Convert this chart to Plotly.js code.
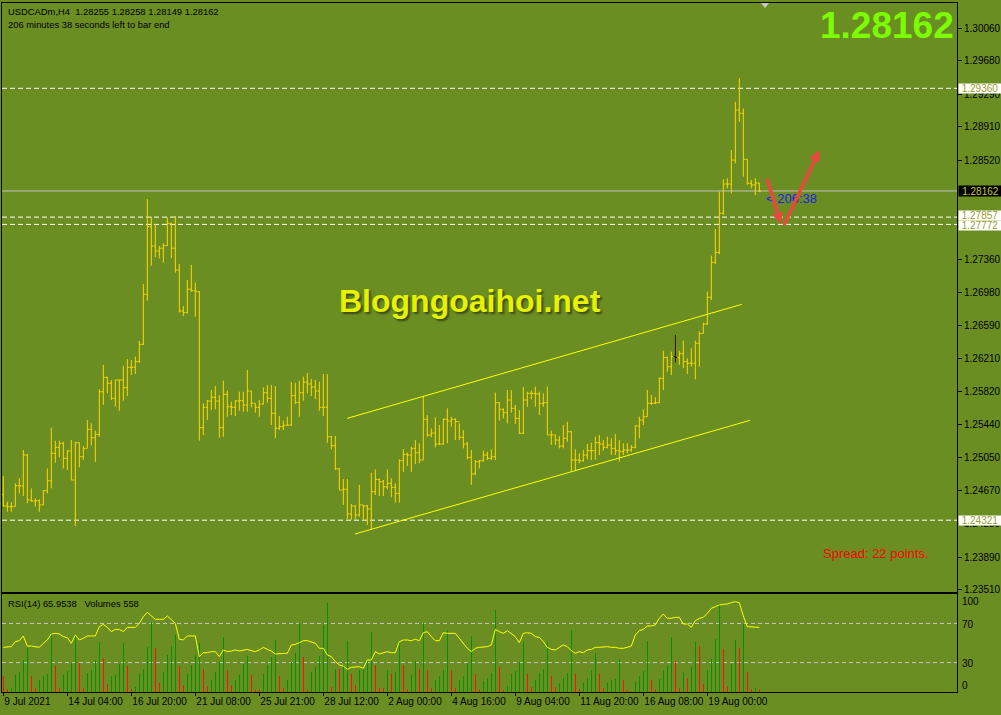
<!DOCTYPE html>
<html><head><meta charset="utf-8">
<script src="https://cdn.plot.ly/plotly-3.0.1.min.js"></script>
<style>html,body{margin:0;padding:0;background:#6B8E23;}#chart{width:1001px;height:715px;}
#chart .bars path{shape-rendering:crispEdges !important;}</style>
</head><body><div id="chart"></div>
<script>
const headerLine1 = 'USDCADm,H4  1.28255 1.28258 1.28149 1.28162';
const headerLine2 = '206 minutes 38 seconds left to bar end';
const rsiHeader = 'RSI(14) 65.9538   Volumes 558';
const bigPrice = '1.28162';
const watermark = 'Blogngoaihoi.net';
const spreadText = 'Spread: 22 points.';
const countdown = '< 206:38';

const tickIdx = [0,16,32,48,64,80,96,112,128,144,160,176];
const tickLabels = ['9 Jul 2021','14 Jul 04:00','16 Jul 20:00','21 Jul 08:00','25 Jul 21:00','28 Jul 12:00','2 Aug 00:00','4 Aug 16:00','9 Aug 04:00','11 Aug 20:00','16 Aug 08:00','19 Aug 00:00'];
const priceTicks = [1.30060,1.29680,1.29290,1.28910,1.28520,1.27750,1.27360,1.26980,1.26590,1.26210,1.25820,1.25440,1.25050,1.24670,1.24280,1.23890,1.23510];
const rsiLevels = [70,30];
const rsiLabels = ['100','70','30','0'];

const openP = [
1.24620,1.24487,1.24479,1.24479,1.24723,1.24720,1.25081,1.24557,1.24545,1.24549,
1.24499,1.24665,1.24781,1.25101,1.25171,1.25218,1.25043,1.25128,1.24790,1.25225,
1.25062,1.25159,1.25381,1.25283,1.25323,1.25820,1.25988,1.25918,1.25743,1.25957,
1.25957,1.25867,1.26105,1.26105,1.26171,1.26373,1.26957,1.27745,1.27520,1.27462,
1.27494,1.27524,1.27785,1.27494,1.27240,1.26762,1.26742,1.27015,1.26998,1.26987,
1.25400,1.25638,1.25711,1.25755,1.25711,1.25400,1.25790,1.25645,1.25638,1.25711,
1.25715,1.25665,1.25828,1.25685,1.25638,1.25676,1.25808,1.25743,1.25568,1.25393,
1.25412,1.25428,1.25431,1.25773,1.25696,1.25808,1.25933,1.25910,1.25875,1.25828,
1.25638,1.25638,1.25295,1.25190,1.24921,1.24673,1.24681,1.24394,1.24487,1.24382,
1.24499,1.24487,1.24452,1.24654,1.24797,1.24769,1.24711,1.24751,1.24704,1.24634,
1.25015,1.25089,1.25081,1.25159,1.25108,1.25023,1.25498,1.25315,1.25338,1.25210,
1.25210,1.25498,1.25478,1.25498,1.25470,1.25288,1.25210,1.25054,1.24860,1.25003,
1.25015,1.25081,1.25043,1.25062,1.25692,1.25614,1.25575,1.25723,1.25626,1.25509,
1.25334,1.25723,1.25801,1.25801,1.25793,1.25685,1.25692,1.25315,1.25315,1.25256,
1.25186,1.25276,1.25353,1.25023,1.25023,1.25015,1.25081,1.25132,1.25132,1.25225,
1.25210,1.25171,1.25198,1.25159,1.25132,1.25120,1.25140,1.25140,1.25171,1.25420,
1.25490,1.25528,1.25685,1.25685,1.25692,1.25976,1.26220,1.26112,1.26229,1.26220,
1.26264,1.26171,1.26152,1.26152,1.26385,1.26501,1.26610,1.26922,1.27329,1.27445,
1.27902,1.28243,1.28243,1.28523,1.29107,1.29068,1.28531,1.28251,1.28232,1.28255];

const highP = [
1.24836,1.24537,1.24530,1.24751,1.24809,1.25140,1.25093,1.24693,1.24576,1.24565,
1.24673,1.24926,1.25400,1.25248,1.25248,1.25236,1.25140,1.25256,1.25236,1.25225,
1.25186,1.25490,1.25451,1.25365,1.25848,1.26132,1.25995,1.25957,1.25957,1.25957,
1.26123,1.26202,1.26190,1.26229,1.26412,1.27077,1.28068,1.27862,1.27773,1.27520,
1.27552,1.27855,1.27792,1.27870,1.27310,1.26820,1.27123,1.27298,1.27092,1.26995,
1.25685,1.25723,1.25840,1.25886,1.25781,1.25948,1.25832,1.25703,1.25723,1.25820,
1.25820,1.26073,1.25830,1.25685,1.25723,1.25871,1.25898,1.25898,1.25886,1.25536,
1.25482,1.25528,1.25933,1.25925,1.25948,1.25995,1.26038,1.25968,1.25957,1.25937,
1.26027,1.26027,1.25303,1.25303,1.24926,1.24802,1.24802,1.24510,1.24499,1.24732,
1.24499,1.24499,1.24875,1.24914,1.24809,1.24790,1.24914,1.24809,1.24751,1.25031,
1.25148,1.25108,1.25178,1.25256,1.25218,1.25770,1.25548,1.25393,1.25521,1.25431,
1.25509,1.25626,1.25528,1.25509,1.25451,1.25373,1.25236,1.25140,1.25023,1.25023,
1.25132,1.25120,1.25148,1.25809,1.25700,1.25626,1.25840,1.25840,1.25665,1.25606,
1.25878,1.25820,1.25832,1.25878,1.25820,1.25801,1.25878,1.25365,1.25320,1.25303,
1.25431,1.25470,1.25360,1.25148,1.25101,1.25140,1.25210,1.25225,1.25295,1.25315,
1.25256,1.25295,1.25276,1.25326,1.25256,1.25218,1.25218,1.25198,1.25431,1.25528,
1.25614,1.25840,1.25781,1.25755,1.25988,1.26297,1.26229,1.26287,1.26482,1.26297,
1.26416,1.26210,1.26327,1.26416,1.26521,1.26626,1.26987,1.27407,1.27718,1.28154,
1.28298,1.28310,1.28640,1.29203,1.29476,1.29126,1.28531,1.28290,1.28310,1.28258];

const lowP = [
1.24479,1.24420,1.24420,1.24479,1.24634,1.24603,1.24518,1.24537,1.24479,1.24420,
1.24499,1.24634,1.24693,1.24991,1.25054,1.24926,1.24906,1.24790,1.24254,1.24938,
1.25023,1.25159,1.25194,1.25003,1.25295,1.25665,1.25801,1.25723,1.25645,1.25598,
1.25715,1.25770,1.26015,1.26027,1.26159,1.26365,1.26882,1.27290,1.27388,1.27377,
1.27325,1.27520,1.27377,1.27208,1.26742,1.26703,1.26735,1.26987,1.26695,1.25248,
1.25315,1.25490,1.25606,1.25614,1.25283,1.25295,1.25528,1.25548,1.25536,1.25598,
1.25586,1.25586,1.25638,1.25575,1.25528,1.25670,1.25692,1.25431,1.25276,1.25373,
1.25373,1.25420,1.25420,1.25676,1.25528,1.25715,1.25801,1.25770,1.25735,1.25598,
1.25536,1.25225,1.25148,1.24906,1.24673,1.24499,1.24332,1.24324,1.24332,1.24362,
1.24324,1.24265,1.24207,1.24615,1.24603,1.24603,1.24681,1.24588,1.24526,1.24526,
1.24886,1.24953,1.24886,1.24976,1.24984,1.25023,1.25295,1.25288,1.25171,1.25198,
1.25198,1.25218,1.25412,1.25256,1.25256,1.25159,1.25031,1.24732,1.24850,1.24926,
1.25003,1.25023,1.25023,1.25023,1.25482,1.25509,1.25451,1.25575,1.25443,1.25326,
1.25326,1.25645,1.25731,1.25645,1.25548,1.25645,1.25315,1.25198,1.25198,1.25159,
1.25159,1.25236,1.24886,1.24906,1.24984,1.25003,1.25031,1.25023,1.25023,1.25081,
1.25132,1.25159,1.25081,1.25081,1.25003,1.25081,1.25101,1.25120,1.25159,1.25276,
1.25431,1.25528,1.25665,1.25676,1.25685,1.25840,1.26054,1.26015,1.26159,1.26132,
1.26093,1.26027,1.26112,1.25965,1.26112,1.26501,1.26598,1.26890,1.27310,1.27426,
1.27882,1.28193,1.28135,1.28484,1.28970,1.28328,1.28232,1.28193,1.28115,1.28149];

const closeP = [
1.24487,1.24479,1.24479,1.24723,1.24720,1.25081,1.24557,1.24545,1.24549,1.24499,
1.24665,1.24781,1.25101,1.25171,1.25218,1.25043,1.25128,1.24790,1.25225,1.25062,
1.25159,1.25381,1.25283,1.25323,1.25820,1.25988,1.25918,1.25743,1.25957,1.25957,
1.25867,1.26105,1.26105,1.26171,1.26373,1.26957,1.27745,1.27520,1.27462,1.27494,
1.27524,1.27785,1.27494,1.27240,1.26762,1.26742,1.27015,1.26998,1.26987,1.25400,
1.25638,1.25711,1.25755,1.25711,1.25400,1.25790,1.25645,1.25638,1.25711,1.25715,
1.25665,1.25828,1.25685,1.25638,1.25676,1.25808,1.25743,1.25568,1.25393,1.25412,
1.25428,1.25431,1.25773,1.25696,1.25808,1.25933,1.25910,1.25875,1.25828,1.25638,
1.25638,1.25295,1.25190,1.24921,1.24673,1.24681,1.24394,1.24487,1.24382,1.24499,
1.24487,1.24452,1.24654,1.24797,1.24769,1.24711,1.24751,1.24704,1.24634,1.25015,
1.25089,1.25081,1.25159,1.25108,1.25023,1.25498,1.25315,1.25338,1.25210,1.25210,
1.25498,1.25478,1.25498,1.25470,1.25288,1.25210,1.25054,1.24860,1.25003,1.25015,
1.25081,1.25043,1.25062,1.25692,1.25614,1.25575,1.25723,1.25626,1.25509,1.25334,
1.25723,1.25801,1.25801,1.25793,1.25685,1.25692,1.25315,1.25315,1.25256,1.25186,
1.25276,1.25353,1.25023,1.25023,1.25015,1.25081,1.25132,1.25132,1.25225,1.25210,
1.25171,1.25198,1.25159,1.25132,1.25120,1.25140,1.25140,1.25171,1.25420,1.25490,
1.25528,1.25685,1.25685,1.25692,1.25976,1.26220,1.26112,1.26229,1.26220,1.26264,
1.26171,1.26152,1.26152,1.26385,1.26501,1.26610,1.26922,1.27329,1.27445,1.27902,
1.28243,1.28243,1.28523,1.29107,1.29068,1.28531,1.28251,1.28232,1.28255,1.28162];

const rsi = [
45.6,45.6,46.3,51.4,52.4,57.2,46.9,46.9,46.3,45.6,
49.7,53.1,59.2,59.9,59.2,56.5,55.4,49.7,58.2,53.1,
54.8,57.2,57.2,57.2,66.7,69.0,66.0,61.6,63.9,63.9,
61.6,66.0,66.0,66.0,70.1,76.9,81.3,77.6,74.2,74.2,
74.2,77.6,74.2,70.1,53.8,53.1,57.2,57.2,57.2,36.1,
40.1,40.1,41.2,41.2,36.1,42.9,41.2,41.8,42.9,41.8,
42.9,43.5,42.2,41.2,42.9,45.6,43.5,41.8,38.8,38.8,
39.5,39.5,48.0,48.6,50.3,52.4,52.4,51.4,49.7,44.6,
44.6,37.8,36.1,31.0,27.6,26.5,23.1,25.2,25.9,25.9,
24.2,32.7,32.7,41.2,38.8,40.1,41.2,40.1,40.1,51.4,
53.1,53.1,52.4,53.8,52.4,60.5,61.6,56.5,52.4,52.4,
60.5,59.9,59.9,59.9,54.8,49.7,44.6,41.2,44.6,45.6,
46.3,46.3,48.0,63.9,61.6,59.9,62.6,59.9,56.5,50.3,
59.9,60.5,59.9,56.5,55.8,51.4,45.6,43.5,42.9,45.6,
48.0,46.3,42.2,39.5,41.2,40.1,42.9,43.5,45.6,45.6,
46.3,46.3,45.6,45.6,44.6,44.6,45.6,46.9,58.2,62.6,
63.9,67.4,67.4,68.4,75.2,79.6,75.2,75.2,76.2,76.2,
69.4,69.4,66.0,72.8,75.2,76.2,80.3,85.4,87.1,88.8,
89.5,89.8,91.2,92.2,91.2,77.6,66.7,66.7,66.7,65.95];

const volumes = [
3250,560,890,3460,4140,6560,9110,3250,890,2420,
3250,3790,12210,5320,890,3460,4280,6000,11740,6000,
890,3930,4490,6560,10350,7100,1590,3250,3460,5730,
10140,5320,620,1040,3660,4820,9320,14490,9170,1860,
4140,7600,9460,11740,5320,1390,3790,5530,7600,10140,
4820,1180,2420,4140,6210,11390,4490,1390,2420,3460,
5730,7390,3460,480,410,3660,5530,7250,10700,3250,
890,2550,6210,8070,14280,7250,480,4140,5180,7390,
13930,18420,1040,4820,4700,5530,10560,3790,1390,4620,
4820,6690,12420,5530,890,830,4490,3790,4140,10350,
5530,560,3460,6420,4820,14280,4490,830,2420,3250,
4490,12770,4490,830,2550,3250,6000,11530,3790,560,
2210,2960,3930,16910,5200,480,1180,3660,4280,6210,
10350,3790,1040,2420,3930,4820,10350,3250,1040,1860,
2960,3930,12770,3660,560,1860,2960,4490,8070,3660,
890,1860,2420,2750,6890,2550,350,210,2070,3250,
4280,10490,2550,560,2750,4620,5320,11390,6420,830,
4140,2960,5180,10350,9460,1590,4490,6770,11030,18150,
8840,1180,5730,10830,9110,14140,4140,680,770,558];

const levels = [1.29360, 1.27857, 1.27772, 1.24321];
const levelLabelShift = [0, 1.5, -0.8, 0];
const currentPrice = 1.28162;
const selectedBar = 168;
const upperX = [85.95, 184.6], upperY = [1.25509, 1.26839];
const lowerX = [87.9, 186.6],  lowerY = [1.24160, 1.25485];
const arrowDown = {x0:190.8, y0:1.28321, x1:194.4, y1:1.27777};
const arrowUp   = {x0:195.0, y0:1.27745, x1:204.0, y1:1.28640};
const countdownPos = {x:190.2, y:1.28080};

const x = closeP.map((_, i) => i);
const volColors = volumes.map((v, i) => (i > 0 && v > volumes[i-1]) ? '#009400' : '#FF1010');
const gold = '#FFD700';
const FONT = 'Liberation Sans, Arial, sans-serif';

const traces = [
  {type:'ohlc', x:x, open:openP, high:highP, low:lowP, close:closeP, xaxis:'x', yaxis:'y',
   increasing:{line:{color:gold, width:1}}, decreasing:{line:{color:gold, width:1}},
   tickwidth:0.45, hoverinfo:'skip'},
  {type:'ohlc', x:[x[selectedBar]], open:[openP[selectedBar]], high:[highP[selectedBar]], low:[lowP[selectedBar]], close:[closeP[selectedBar]],
   xaxis:'x', yaxis:'y', increasing:{line:{color:'#000', width:1}}, decreasing:{line:{color:'#000', width:1}},
   tickwidth:0.45, hoverinfo:'skip'},
  {type:'scatter', mode:'lines', x:upperX, y:upperY, xaxis:'x', yaxis:'y', line:{color:'#FFFF00', width:1}, hoverinfo:'skip'},
  {type:'scatter', mode:'lines', x:lowerX, y:lowerY, xaxis:'x', yaxis:'y', line:{color:'#FFFF00', width:1}, hoverinfo:'skip'},
  {type:'bar', x:x, y:volumes, xaxis:'x2', yaxis:'y2', width:0.32, marker:{color:volColors, line:{width:0}}, hoverinfo:'skip'},
  {type:'scatter', mode:'lines', x:x, y:rsi, xaxis:'x2', yaxis:'y3', line:{color:'#FFFF00', width:1}, hoverinfo:'skip'}
];

const xr = [-0.33, 238.42];
const shapes = [];
levels.forEach(l => shapes.push({type:'line', xref:'paper', x0:0, x1:1, yref:'y', y0:l, y1:l, layer:'below',
  line:{color:'#FFFFFF', width:1, dash:'5px,3px'}}));
shapes.push({type:'line', xref:'paper', x0:0, x1:1, yref:'y', y0:currentPrice, y1:currentPrice, layer:'below',
  line:{color:'#C0C0C0', width:1}});
rsiLevels.forEach(l => shapes.push({type:'line', xref:'paper', x0:0, x1:1, yref:'y3', y0:l, y1:l, layer:'below',
  line:{color:'#C8C8C8', width:1, dash:'4px,3px'}}));
shapes.push({type:'path', xref:'paper', yref:'paper', xsizemode:'pixel', ysizemode:'pixel', xanchor:0.799, yanchor:1,
  path:'M-4,0 L4,0 L0,-5 Z', fillcolor:'#C8C8C8', line:{width:0}});

const annotations = [
  {xref:'paper', yref:'paper', x:0, y:1, xanchor:'left', yanchor:'top', xshift:4, yshift:-1, showarrow:false,
   text:headerLine1, font:{family:FONT, size:9.4, color:'#000'}},
  {xref:'paper', yref:'paper', x:0, y:1, xanchor:'left', yanchor:'top', xshift:4, yshift:-13.5, showarrow:false,
   text:headerLine2, font:{family:FONT, size:9.4, color:'#000'}},
  {xref:'paper', yref:'paper', x:0, y:0.1422, xanchor:'left', yanchor:'top', xshift:4, yshift:-2, showarrow:false,
   text:rsiHeader, font:{family:FONT, size:9.4, color:'#000'}},
  {xref:'paper', yref:'paper', x:1, y:0.9673, xanchor:'right', yanchor:'middle', xshift:-1, showarrow:false,
   text:'<b>'+bigPrice+'</b>', font:{family:FONT, size:37, color:'#7CFC00'}},
  {xref:'paper', yref:'paper', x:0.4901, y:0.5668, xanchor:'center', yanchor:'middle', showarrow:false,
   text:'<b>'+watermark+'</b>', font:{family:FONT, size:32, color:'#E6F200', shadow:'2px 2px 2px #3b4a12'}},
  {xref:'paper', yref:'paper', x:0.8573, y:0.2013, xanchor:'left', yanchor:'middle', showarrow:false,
   text:spreadText, font:{family:FONT, size:13, color:'#FF0000'}},
  {xref:'x', yref:'y', x:countdownPos.x, y:countdownPos.y, xanchor:'left', yanchor:'middle', showarrow:false,
   text:countdown, font:{family:FONT, size:13, color:'#1E22E6'}},
  {xref:'x', yref:'y', x:arrowDown.x1, y:arrowDown.y1, axref:'x', ayref:'y', ax:arrowDown.x0, ay:arrowDown.y0,
   showarrow:true, arrowhead:2, arrowsize:0.65, arrowwidth:3.5, arrowcolor:'#E8493D', text:''},
  {xref:'x', yref:'y', x:arrowUp.x1, y:arrowUp.y1, axref:'x', ayref:'y', ax:arrowUp.x0, ay:arrowUp.y0,
   showarrow:true, arrowhead:2, arrowsize:0.65, arrowwidth:3.5, arrowcolor:'#E8493D', text:''}
];
levels.forEach((l, i) => annotations.push({xref:'paper', yref:'y', x:1, y:l, xanchor:'left', yanchor:'middle', xshift:1,
  yshift:levelLabelShift[i], showarrow:false, text:l.toFixed(5), bgcolor:'#FFFFFF', width:42, height:9, borderpad:0,
  font:{family:FONT, size:10, color:'#9A9A2E'}}));
annotations.push({xref:'paper', yref:'y', x:1, y:currentPrice, xanchor:'left', yanchor:'middle', xshift:1,
  showarrow:false, text:currentPrice.toFixed(5), bgcolor:'#000000', width:43, height:10, borderpad:0,
  font:{family:FONT, size:10, color:'#C4C44A'}});
const rsiLabelPos = [92.1, 69.1, 29.3, 6.4];
rsiLabels.forEach((t, i) => annotations.push({xref:'paper', yref:'y3', x:1, y:rsiLabelPos[i], xanchor:'left', yanchor:'middle',
  xshift:3, showarrow:false, text:t, font:{family:FONT, size:10, color:'#000'}}));

const axBase = {showgrid:false, zeroline:false, showline:true, mirror:true, linecolor:'#000', linewidth:1, fixedrange:true};
const layout = {
  width:1001, height:715,
  margin:{l:2, r:44, t:3, b:23},
  paper_bgcolor:'#6B8E23', plot_bgcolor:'#6B8E23',
  showlegend:false, hovermode:false, dragmode:false,
  font:{family:FONT, size:10, color:'#000'},
  xaxis:Object.assign({}, axBase, {domain:[0,1], anchor:'y', range:xr, showticklabels:false, ticks:'', rangeslider:{visible:false}}),
  yaxis:Object.assign({}, axBase, {domain:[0.1456,1], anchor:'x', side:'right', range:[1.23487,1.30355],
    tickmode:'array', tickvals:priceTicks, ticktext:priceTicks.map(v => v.toFixed(5)),
    ticks:'outside', ticklen:4, tickcolor:'#000', tickfont:{family:FONT, size:10, color:'#000'}}),
  xaxis2:Object.assign({}, axBase, {domain:[0,1], anchor:'y2', range:xr, tickmode:'array', tickvals:tickIdx, ticktext:tickLabels,
    ticks:'outside', ticklen:3, tickcolor:'#000', ticklabelposition:'outside right', tickangle:0,
    tickfont:{family:FONT, size:10, color:'#000'}, rangeslider:{visible:false}}),
  yaxis2:Object.assign({}, axBase, {domain:[0,0.1422], anchor:'x2', side:'right', range:[0,20300], showticklabels:false, ticks:''}),
  yaxis3:{overlaying:'y2', anchor:'x2', side:'right', range:[0,100], visible:false, fixedrange:true},
  bargap:0,
  shapes:shapes,
  annotations:annotations
};

Plotly.newPlot('chart', traces, layout, {displayModeBar:false, staticPlot:true});
</script>
</body></html>
